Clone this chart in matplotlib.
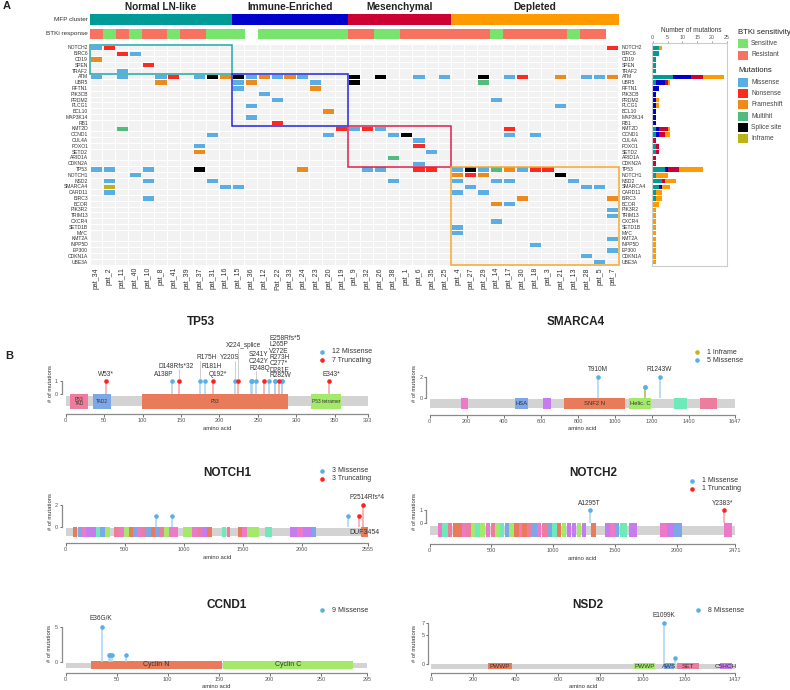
import matplotlib
matplotlib.use('Agg')
import matplotlib.pyplot as plt
from matplotlib.patches import Rectangle

plt.rcParams['font.family'] = ['Liberation Sans', 'DejaVu Sans']

# ======================= PANEL A DATA =======================
genes = ['NOTCH2', 'BIRC6', 'CD19', 'SPEN', 'TRAF2', 'ATM', 'UBR5', 'RFTN1', 'PIK3CB', 'PRDM2',
         'PLCG1', 'BCL10', 'MAP3K14', 'RB1', 'KMT2D', 'CCND1', 'CUL4A', 'FOXO1', 'SETD2', 'ARID1A',
         'CDKN2A', 'TP53', 'NOTCH1', 'NSD2', 'SMARCA4', 'CARD11', 'BIRC3', 'BCOR', 'PIK3R2', 'TRIM13',
         'CXCR4', 'SETD1B', 'MYC', 'KMT2A', 'INPP5D', 'EP300', 'CDKN1A', 'UBE3A']
patients = ['pat_34', 'pat_2', 'pat_11', 'pat_40', 'pat_10', 'pat_8', 'pat_41', 'pat_39', 'pat_37',
            'pat_31', 'pat_16', 'pat_15', 'pat_36', 'pat_12', 'Pat_22', 'pat_33', 'pat_24', 'pat_23',
            'pat_20', 'pat_19', 'pat_9', 'pat_32', 'pat_26', 'pat_38', 'pat_1', 'pat_6', 'pat_35',
            'pat_25', 'pat_4', 'pat_27', 'pat_29', 'pat_14', 'pat_17', 'pat_30', 'pat_18', 'pat_3',
            'pat_21', 'pat_13', 'pat_28', 'pat_5', 'pat_7']
cluster_names = ['Normal LN-like', 'Immune-Enriched', 'Mesenchymal', 'Depleted']
cluster_sizes = [11, 9, 8, 13]
cluster_gene_counts = [5, 9, 7, 17]
btki_response = (['R', 'S', 'R', 'S', 'R', 'R', 'S', 'R', 'R', 'S', 'S', 'S', 'NA',
                  'S', 'S', 'S', 'S', 'S', 'S', 'S', 'R', 'R', 'S', 'S',
                  'R', 'R', 'R', 'R', 'R', 'R', 'R', 'S', 'R', 'R', 'R', 'R', 'R',
                  'S', 'R', 'R', 'NA'])

# mutated patients per gene (aligned with genes) and mutation type codes
# M missense, N nonsense, F frameshift, H multihit, S splice site, I inframe
mut_patients = [
    ['pat_34', 'pat_2', 'pat_7'],
    ['pat_11', 'pat_40'],
    ['pat_34'],
    ['pat_10'],
    ['pat_11'],
    ['pat_34', 'pat_11', 'pat_8', 'pat_41', 'pat_37', 'pat_31', 'pat_16', 'pat_15', 'pat_36', 'pat_12',
     'Pat_22', 'pat_33', 'pat_24', 'pat_9', 'pat_26', 'pat_6', 'pat_25', 'pat_29', 'pat_17', 'pat_30',
     'pat_21', 'pat_28', 'pat_5', 'pat_7'],
    ['pat_8', 'pat_15', 'pat_36', 'pat_23', 'pat_9', 'pat_29'],
    ['pat_15', 'pat_23'],
    ['pat_12'],
    ['Pat_22', 'pat_14'],
    ['pat_36', 'pat_21'],
    ['pat_20'],
    ['pat_36'],
    ['Pat_22'],
    ['pat_11', 'pat_19', 'pat_9', 'pat_32', 'pat_26', 'pat_17'],
    ['pat_31', 'pat_20', 'pat_38', 'pat_1', 'pat_17', 'pat_18'],
    ['pat_6'],
    ['pat_37', 'pat_6'],
    ['pat_37', 'pat_35'],
    ['pat_38'],
    ['pat_6'],
    ['pat_34', 'pat_2', 'pat_10', 'pat_37', 'pat_24', 'pat_32', 'pat_26', 'pat_6', 'pat_35', 'pat_4',
     'pat_27', 'pat_29', 'pat_14', 'pat_17', 'pat_30', 'pat_18', 'pat_3'],
    ['pat_40', 'pat_4', 'pat_27', 'pat_29', 'pat_21'],
    ['pat_2', 'pat_10', 'pat_31', 'pat_38', 'pat_4', 'pat_14', 'pat_17', 'pat_13'],
    ['pat_2', 'pat_16', 'pat_15', 'pat_27', 'pat_28', 'pat_5'],
    ['pat_2', 'pat_4', 'pat_29'],
    ['pat_10', 'pat_30', 'pat_7'],
    ['pat_14', 'pat_17'],
    ['pat_7'],
    ['pat_7'],
    ['pat_14'],
    ['pat_4'],
    ['pat_4'],
    ['pat_7'],
    ['pat_18'],
    ['pat_7'],
    ['pat_28'],
    ['pat_5'],
]
mut_types = [
    ['M', 'N', 'N'],
    ['N', 'M'],
    ['F'],
    ['N'],
    ['M'],
    ['M', 'M', 'M', 'N', 'M', 'S', 'F', 'S', 'M', 'F', 'M', 'F', 'M', 'S', 'S', 'M', 'M', 'S', 'M', 'N',
     'F', 'M', 'M', 'F'],
    ['F', 'M', 'F', 'M', 'S', 'H'],
    ['M', 'F'],
    ['M'],
    ['M', 'M'],
    ['M', 'M'],
    ['F'],
    ['M'],
    ['N'],
    ['H', 'N', 'M', 'N', 'M', 'N'],
    ['M', 'M', 'M', 'S', 'M', 'M'],
    ['M'],
    ['M', 'N'],
    ['F', 'M'],
    ['H'],
    ['M'],
    ['M', 'M', 'M', 'S', 'F', 'M', 'M', 'N', 'N', 'M', 'S', 'M', 'H', 'F', 'M', 'N', 'N'],
    ['M', 'F', 'N', 'F', 'S'],
    ['M', 'M', 'M', 'M', 'M', 'M', 'M', 'M'],
    ['I', 'M', 'M', 'M', 'M', 'M'],
    ['M', 'M', 'M'],
    ['M', 'F', 'F'],
    ['F', 'M'],
    ['M'], ['M'], ['M'], ['M'], ['M'], ['M'], ['M'], ['M'], ['M'], ['M'],
]
mutation_names = ['Missense', 'Nonsense', 'Frameshift', 'Multihit', 'Splice site', 'Inframe']
mutation_codes = ['M', 'N', 'F', 'H', 'S', 'I']
bar_ticks = [0, 5, 10, 15, 20, 25]

# ======================= PANEL B DATA =======================
tp53_len = 393
tp53_pos = [53, 138, 148, 175, 181, 192, 220, 224, 241, 242, 248, 258, 265, 272, 273, 277, 281, 282, 343]
tp53_cnt = [1, 1, 1, 1, 1, 1, 1, 1, 1, 1, 1, 1, 1, 1, 1, 1, 1, 1, 1]
tp53_type = ['T', 'M', 'T', 'M', 'M', 'T', 'M', 'T', 'M', 'M', 'M', 'T', 'M', 'M', 'M', 'T', 'M', 'M', 'T']
tp53_lab = ['W53*', 'A138P', 'D148Rfs*32', 'R175H', 'R181H', 'Q192*', 'Y220S', 'X224_splice', 'S241Y',
            'C242Y', 'R248Q', 'E258Rfs*5', 'L265P', 'V272E', 'R273H', 'C277*', 'D281E', 'R282W', 'E343*']
tp53_dstart = [6, 35, 99, 319]
tp53_dend = [29, 59, 289, 358]
tp53_dname = ['P53\nTAD', 'TAD2', 'P53', 'P53 tetramer']
tp53_dcol = ['pinkred', 'blue', 'orange', 'green']

smarca4_len = 1647
smarca4_pos = [910, 1161, 1161, 1243]
smarca4_cnt = [2, 1, 1, 2]
smarca4_type = ['M', 'I', 'M', 'M']
smarca4_lab = ['T910M', '', '', 'R1243W']
smarca4_dstart = [169, 460, 609, 725, 1077, 1320, 1460]
smarca4_dend = [207, 530, 654, 1054, 1192, 1390, 1550]
smarca4_dname = ['', 'HSA', '', 'SNF2 N', 'Helic. C', '', '']
smarca4_dcol = ['magenta', 'blue', 'purple', 'orange', 'green', 'mint', 'pinkred']

notch1_len = 2555
notch1_pos = [761, 897, 2386, 2482, 2514]
notch1_cnt = [1, 1, 1, 1, 2]
notch1_type = ['M', 'M', 'M', 'T', 'T']
notch1_lab = ['', '', '', '', 'P2514Rfs*4']
notch1_dstart = [59, 102, 138, 172, 257, 290, 336, 412, 451, 491, 533, 567, 606, 640, 680, 719, 756, 795,
                 832, 877, 911, 995, 1029, 1072, 1114, 1156, 1193, 1320, 1362, 1455, 1494, 1537, 1588,
                 1686, 1898, 1954, 2011, 2081, 2497]
notch1_dend = [99, 138, 172, 254, 290, 336, 375, 451, 491, 533, 567, 606, 640, 680, 719, 756, 795, 832,
               877, 911, 953, 1029, 1066, 1114, 1156, 1193, 1235, 1356, 1390, 1494, 1537, 1588, 1638,
               1743, 1954, 2011, 2081, 2118, 2555]
notch1_dname = [''] * 38 + ['DUF3454']
notch1_dcol = ['orange', 'blue', 'magenta', 'purple', 'mint', 'blue', 'green', 'pinkred', 'magenta',
               'green', 'orange', 'blue', 'magenta', 'pinkred', 'blue', 'orange', 'blue', 'pinkred',
               'green', 'magenta', 'magenta', 'green', 'green', 'magenta', 'pinkred', 'purple', 'orange',
               'mint', 'pinkred', 'orange', 'magenta', 'green', 'green', 'mint', 'purple', 'magenta',
               'purple', 'blue', 'orange']

notch2_len = 2471
notch2_pos = [1295, 2383]
notch2_cnt = [1, 1]
notch2_type = ['M', 'T']
notch2_lab = ['A1295T', 'Y2383*']
notch2_dstart = [65, 103, 146, 186, 224, 262, 294, 335, 370, 410, 453, 494, 531, 572, 607, 645, 683, 723,
                 750, 790, 831, 869, 907, 950, 990, 1031, 1068, 1112, 1149, 1192, 1230, 1303, 1419, 1462,
                 1503, 1538, 1616, 1861, 1918, 1977, 2382]
notch2_dend = [100, 146, 183, 221, 259, 294, 332, 367, 410, 451, 488, 529, 569, 604, 642, 680, 720, 747,
               785, 828, 866, 904, 947, 987, 1028, 1066, 1101, 1147, 1184, 1225, 1263, 1343, 1460, 1500,
               1535, 1597, 1675, 1918, 1977, 2045, 2447]
notch2_dname = [''] * 41
notch2_dcol = ['magenta', 'mint', 'pinkred', 'orange', 'orange', 'magenta', 'pinkred', 'green', 'mint',
               'green', 'magenta', 'pinkred', 'green', 'mint', 'blue', 'green', 'orange', 'magenta',
               'orange', 'pinkred', 'blue', 'magenta', 'pinkred', 'blue', 'mint', 'orange', 'green',
               'purple', 'purple', 'green', 'purple', 'orange', 'purple', 'magenta', 'blue', 'mint',
               'purple', 'magenta', 'purple', 'blue', 'magenta']

ccnd1_len = 295
ccnd1_pos = [36, 42, 43, 45, 59]
ccnd1_cnt = [5, 1, 1, 1, 1]
ccnd1_type = ['M', 'M', 'M', 'M', 'M']
ccnd1_lab = ['E36G/K', '', '', '', '']
ccnd1_dstart = [25, 154]
ccnd1_dend = [153, 282]
ccnd1_dname = ['Cyclin N', 'Cyclin C']
ccnd1_dcol = ['orange', 'green']

nsd2_len = 1437
nsd2_pos = [1099, 1154]
nsd2_cnt = [7, 1]
nsd2_type = ['M', 'M']
nsd2_lab = ['E1099K', '']
nsd2_dstart = [268, 961, 1102, 1161, 1365]
nsd2_dend = [384, 1058, 1150, 1268, 1420]
nsd2_dname = ['PWWP', 'PWWP', 'AWS', 'SET', 'C5HCH']
nsd2_dcol = ['orange', 'green', 'blue', 'pinkred', 'purple']

# ======================= STYLE =======================
mut_colors = {'M': '#5AAEE3', 'N': '#FF2A1F', 'F': '#EE8A1B', 'H': '#52BC7F', 'S': '#000000', 'I': '#BDB319'}
cluster_colors = ['#009B96', '#0000CD', '#CC0033', '#FF9A00']
box_colors = ['#1FA9A6', '#2424E0', '#D8204E', '#F8A62A']
btki_colors = {'S': '#78E46E', 'R': '#F87261'}
dom_palette = {'orange': '#E97B5A', 'green': '#A5E96B', 'mint': '#6EEAB8', 'blue': '#7CA8EA',
               'purple': '#C67BEE', 'magenta': '#EE79C8', 'pinkred': '#EE7C9D'}
dot_colors = {'M': '#57B1E8', 'T': '#FF2020', 'I': '#C2B41C'}
stem_colors = {'M': '#A9D3F2', 'T': '#F6A3A3', 'I': '#C9C24A'}
type_label = {'M': 'Missense', 'T': 'Truncating', 'I': 'Inframe'}

W, H = 790, 690
fig = plt.figure(figsize=(W / 100, H / 100), dpi=100)


def axpx(l, t, r, b, **kw):
    a = fig.add_axes([l / W, 1 - b / H, (r - l) / W, (b - t) / H], **kw)
    a.patch.set_visible(False)
    return a


ov = axpx(0, 0, W, H, zorder=20)
ov.set_xlim(0, W)
ov.set_ylim(H, 0)
ov.axis('off')


def T(x, y, s, **kw):
    kw.setdefault('color', '#222222')
    ov.text(x, y, s, **kw)


# ======================= PANEL A =======================
T(3, 6, 'A', fontsize=8, fontweight='bold', va='center', ha='left')
GX0, GX1, GY0, GY1 = 90, 619, 45, 265
nP, nG = len(patients), len(genes)
cw = (GX1 - GX0) / nP
rh = (GY1 - GY0) / nG
axg = axpx(GX0, GY0, GX1, GY1)
axg.set_xlim(0, nP)
axg.set_ylim(nG, 0)
axg.axis('off')
for i in range(nP):
    for j in range(nG):
        axg.add_patch(Rectangle((i + 0.04, j + 0.07), 0.92, 0.86, fc='#F2F2F2', ec='none'))
col_index = {p: i for i, p in enumerate(patients)}
for j in range(nG):
    for p, t in zip(mut_patients[j], mut_types[j]):
        axg.add_patch(Rectangle((col_index[p] + 0.07, j + 0.13), 0.86, 0.74,
                                fc=mut_colors[t], ec='none', zorder=2))
c0 = r0 = 0
for k in range(4):
    axg.add_patch(Rectangle((c0, r0), cluster_sizes[k], cluster_gene_counts[k], fill=False,
                            ec=box_colors[k], lw=1.1, zorder=5, clip_on=False))
    c0 += cluster_sizes[k]
    r0 += cluster_gene_counts[k]
for j, g in enumerate(genes):
    axg.text(-0.15, j + 0.5, g, ha='right', va='center', fontsize=3.6, color='#333333')
    axg.text(nP + 0.2, j + 0.5, g, ha='left', va='center', fontsize=3.6, color='#333333')
for i, p in enumerate(patients):
    axg.text(i + 0.5, nG + 0.35, p, rotation=90, ha='center', va='top', fontsize=5, color='#333333')

axc = axpx(GX0, 14, GX1, 25)
axc.set_xlim(0, nP)
axc.set_ylim(0, 1)
axc.axis('off')
c0 = 0
for k in range(4):
    axc.add_patch(Rectangle((c0, 0), cluster_sizes[k], 1, fc=cluster_colors[k], ec='none'))
    T(GX0 + (c0 + cluster_sizes[k] / 2) * cw, 6.5, cluster_names[k], ha='center', va='center',
      fontsize=7.3, fontweight='bold')
    c0 += cluster_sizes[k]
axb = axpx(GX0, 29, GX1, 39)
axb.set_xlim(0, nP)
axb.set_ylim(0, 1)
axb.axis('off')
for i, r in enumerate(btki_response):
    if r in btki_colors:
        axb.add_patch(Rectangle((i, 0), 1, 1, fc=btki_colors[r], ec='none'))
T(88, 19.5, 'MFP cluster', ha='right', va='center', fontsize=4.6, color='#333333')
T(88, 34, 'BTKi response', ha='right', va='center', fontsize=4.6, color='#333333')

# bar chart of mutation counts per cluster
cluster_of_col = []
for k, s in enumerate(cluster_sizes):
    cluster_of_col += [k] * s
counts = [[0, 0, 0, 0] for _ in genes]
for j in range(nG):
    for p in mut_patients[j]:
        counts[j][cluster_of_col[col_index[p]]] += 1
axr = axpx(651.7, 43, 726.7, 266)
axr.set_xlim(-25 / 74, 25)
axr.set_ylim(nG + 1 / rh, -2 / rh)
left = [0] * nG
for k in range(4):
    vals = [counts[j][k] for j in range(nG)]
    axr.barh([j + 0.5 for j in range(nG)], vals, left=left, height=0.8, color=cluster_colors[k], lw=0)
    left = [a + b for a, b in zip(left, vals)]
axr.xaxis.tick_top()
axr.set_xticks(bar_ticks)
axr.set_yticks([])
axr.tick_params(axis='x', labelsize=3.8, colors='#555555', length=1.5, width=0.4, pad=1)
for s in axr.spines.values():
    s.set_color('#CCCCCC')
    s.set_linewidth(0.8)
T(691, 30.5, 'Number of mutations', ha='center', va='center', fontsize=4.7, color='#333333')

# legends
T(738, 32, 'BTKi sensitivity', ha='left', va='center', fontsize=5.6)
for n, (lab, key) in enumerate([('Sensitive', 'S'), ('Resistant', 'R')]):
    yc = 43.5 + n * 11.5
    ov.add_patch(Rectangle((738.3, yc - 4.5), 10, 9, fc=btki_colors[key], ec='none'))
    T(751, yc, lab, ha='left', va='center', fontsize=4.8, color='#444444')
T(738, 71, 'Mutations', ha='left', va='center', fontsize=5.6)
for n, (lab, code) in enumerate(zip(mutation_names, mutation_codes)):
    yc = 82.5 + n * 11.2
    ov.add_patch(Rectangle((738.3, yc - 4.5), 10, 9, fc=mut_colors[code], ec='none'))
    T(751, yc, lab, ha='left', va='center', fontsize=4.8, color='#444444')

# ======================= PANEL B =======================
T(5, 356, 'B', fontsize=8, fontweight='bold', va='center', ha='left')

layouts = {
    'TP53': dict(x0=65.7, x1=367.7, spx=61.7, y0=394, u=13, axy=414, top=335, bb=(396, 406),
                 dom=(394, 409), dfs=3.5, title=(201, 322), ylab=(50, 383), xlab=429,
                 legx=322.3, legy=351.7),
    'SMARCA4': dict(x0=429.7, x1=735, spx=426, y0=397.7, u=10.5, axy=415, top=360, bb=(399, 407.5),
                    dom=(397.7, 409.3), dfs=4.2, title=(576, 322), ylab=(415, 383), xlab=429,
                    legx=696.7, legy=352),
    'NOTCH1': dict(x0=65.7, x1=367.7, spx=61.7, y0=526.7, u=10.8, axy=543.3, top=490, bb=(528, 536),
                   dom=(526.7, 537.3), dfs=5, title=(227, 473), ylab=(50, 512), xlab=557.7,
                   legx=322, legy=470.7),
    'NOTCH2': dict(x0=429.7, x1=735, spx=426, y0=522.7, u=12.7, axy=544.3, top=495, bb=(525.7, 535),
                   dom=(522.7, 537.3), dfs=4, title=(593, 473), ylab=(415, 512), xlab=558,
                   legx=692.3, legy=480.7),
    'CCND1': dict(x0=65.7, x1=366.7, spx=61.7, y0=661.7, u=7, axy=673.3, top=620, bb=(662.7, 667.7),
                  dom=(661, 669), dfs=5, title=(227, 605), ylab=(49.5, 643), xlab=686.7,
                  legx=321.7, legy=610),
    'NSD2': dict(x0=431, x1=735.2, spx=428.3, y0=663.7, u=5.77, axy=673.3, top=615, bb=(664.3, 668.7),
                 dom=(663.3, 669.3), dfs=4.6, title=(588, 605), ylab=(415, 643), xlab=686.7,
                 legx=698.3, legy=610),
}
# label placement (px): text -> (x, y, ha, leader)
label_layout = {
    'W53*': (105.7, 374.3, 'center', False), 'A138P': (163.7, 374.3, 'center', False),
    'D148Rfs*32': (176.3, 366, 'center', True), 'R175H': (206.7, 357.7, 'center', True),
    'R181H': (211.3, 366.7, 'center', False), 'Q192*': (218.3, 374.3, 'center', False),
    'Y220S': (229.3, 357.7, 'center', True), 'X224_splice': (243.3, 345.7, 'center', True),
    'S241Y': (249, 354.7, 'left', False), 'C242Y': (249, 361.5, 'left', False),
    'R248Q': (249, 368.3, 'left', True),
    'E258Rfs*5': (269.3, 338.5, 'left', False), 'L265P': (269.3, 344.8, 'left', False),
    'V272E': (269.3, 351.1, 'left', False), 'R273H': (269.3, 357.4, 'left', False),
    'C277*': (269.3, 363.7, 'left', False), 'D281E': (269.3, 370, 'left', False),
    'R282W': (269.3, 375.8, 'left', False), 'E343*': (331.7, 374.3, 'center', False),
    'T910M': (597.5, 369.3, 'center', False), 'R1243W': (658.8, 369.3, 'center', False),
    'P2514Rfs*4': (366.7, 497.3, 'center', False),
    'A1295T': (589.2, 503.3, 'center', False), 'Y2383*': (722.5, 503.3, 'center', False),
    'E36G/K': (101.3, 619, 'center', False), 'E1099K': (664, 615.7, 'center', False),
}


def lollipop(name, L, pos, cnt, typ, labs, ds, de, dn, dc, xticks, yticks):
    lay = layouts[name]
    x0, x1, y0, u = lay['x0'], lay['x1'], lay['y0'], lay['u']
    ppa = (x1 - x0) / L
    ax = axpx(lay['spx'], lay['top'], x1 + 4, lay['axy'])
    ax.set_xlim(-(x0 - lay['spx']) / ppa, L + 4 / ppa)
    ax.set_ylim(-(lay['axy'] - y0) / u, (y0 - lay['top']) / u)

    def yv(py):
        return (y0 - py) / u
    bt, bb = lay['bb']
    ax.add_patch(Rectangle((0, yv(bb)), L, yv(bt) - yv(bb), fc='#D3D3D3', ec='none', zorder=1))
    dt, db = lay['dom']
    for s, e, n, c in zip(ds, de, dn, dc):
        ax.add_patch(Rectangle((s, yv(db)), e - s, yv(dt) - yv(db), fc=dom_palette[c], ec='none', zorder=2))
        if n:
            ax.text((s + e) / 2, yv((dt + db) / 2), n, ha='center', va='center', fontsize=lay['dfs'],
                    color='#333333', zorder=3, linespacing=0.95)
    for tt in ['M', 'T', 'I']:
        for p, c, t in zip(pos, cnt, typ):
            if t == tt:
                ax.plot([p, p], [0, c], color=stem_colors[t], lw=1.1, zorder=3, solid_capstyle='butt')
    for tt in ['I', 'M', 'T']:
        for p, c, t in zip(pos, cnt, typ):
            if t == tt:
                ax.plot([p], [c], 'o', color=dot_colors[t], ms=3.3, mec='none', zorder=4, clip_on=False)
    ax.set_xticks(xticks)
    ax.set_xticklabels([str(t) for t in xticks])
    ax.set_yticks(yticks)
    ax.set_yticklabels([str(t) for t in yticks])
    ax.spines['left'].set_bounds(0, max(yticks))
    ax.spines['bottom'].set_bounds(0, L)
    for s in ['top', 'right']:
        ax.spines[s].set_visible(False)
    for s in ['left', 'bottom']:
        ax.spines[s].set_color('#8A8A8A')
        ax.spines[s].set_linewidth(0.9)
    ax.tick_params(labelsize=4, colors='#555555', length=1.8, width=0.6, pad=0.8)
    # texts
    T(lay['title'][0], lay['title'][1], name, ha='center', va='center', fontsize=8.5, fontweight='bold')
    T(lay['ylab'][0], lay['ylab'][1], '# of mutations', rotation=90, ha='center', va='center',
      fontsize=4.2, color='#333333')
    T((x0 + x1) / 2, lay['xlab'], 'amino acid', ha='center', va='center', fontsize=4.2, color='#333333')
    totals = {}
    for c, t in zip(cnt, typ):
        totals[t] = totals.get(t, 0) + c
    for n, t in enumerate(sorted(totals, key=lambda k: type_label[k])):
        yy = lay['legy'] + n * 8.3
        ov.plot([lay['legx']], [yy], 'o', color=dot_colors[t], ms=3.3, mec='none')
        T(lay['legx'] + 10, yy, f'{totals[t]} {type_label[t]}', ha='left', va='center', fontsize=5,
          color='#333333')
    for p, c, lab in zip(pos, cnt, labs):
        if not lab:
            continue
        lx, ly, ha, leader = label_layout[lab]
        T(lx, ly, lab, ha=ha, va='center', fontsize=4.7, color='#333333')
        if leader:
            px = x0 + p * ppa
            py = y0 - c * u
            ov.plot([px, px], [ly + 3, py - 2.5], color='#AAAAAA', lw=0.4)


lollipop('TP53', tp53_len, tp53_pos, tp53_cnt, tp53_type, tp53_lab, tp53_dstart, tp53_dend,
         tp53_dname, tp53_dcol, [0, 50, 100, 150, 200, 250, 300, 350, 393], [0, 1])
lollipop('SMARCA4', smarca4_len, smarca4_pos, smarca4_cnt, smarca4_type, smarca4_lab, smarca4_dstart,
         smarca4_dend, smarca4_dname, smarca4_dcol, [0, 200, 400, 600, 800, 1000, 1200, 1400, 1647], [0, 2])
lollipop('NOTCH1', notch1_len, notch1_pos, notch1_cnt, notch1_type, notch1_lab, notch1_dstart,
         notch1_dend, notch1_dname, notch1_dcol, [0, 500, 1000, 1500, 2000, 2555], [0, 2])
lollipop('NOTCH2', notch2_len, notch2_pos, notch2_cnt, notch2_type, notch2_lab, notch2_dstart,
         notch2_dend, notch2_dname, notch2_dcol, [0, 500, 1000, 1500, 2000, 2471], [0, 1])
lollipop('CCND1', ccnd1_len, ccnd1_pos, ccnd1_cnt, ccnd1_type, ccnd1_lab, ccnd1_dstart, ccnd1_dend,
         ccnd1_dname, ccnd1_dcol, [0, 50, 100, 150, 200, 250, 295], [0, 5])
lollipop('NSD2', nsd2_len, nsd2_pos, nsd2_cnt, nsd2_type, nsd2_lab, nsd2_dstart, nsd2_dend,
         nsd2_dname, nsd2_dcol, [0, 200, 400, 600, 800, 1000, 1200, 1437], [0, 5, 7])

fig.savefig('out.png', dpi=100)
